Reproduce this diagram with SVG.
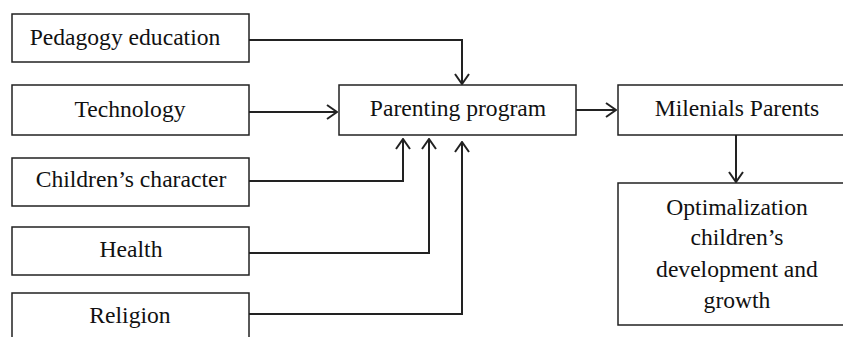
<svg xmlns="http://www.w3.org/2000/svg" width="843" height="337" viewBox="0 0 843 337">
<style>
.box{fill:#fff;stroke:#222;stroke-width:1.5}
.t{font-family:"Liberation Serif","Times New Roman",serif;font-size:23.6px;fill:#111;text-anchor:middle}
.c{fill:none;stroke:#222;stroke-width:2}
</style>
<defs>
<marker id="a" viewBox="0 0 12 16" refX="11" refY="8" markerWidth="12" markerHeight="16" markerUnits="userSpaceOnUse" orient="auto">
<path d="M1,1 L11,8 L1,15" fill="none" stroke="#222" stroke-width="2"/>
</marker>
</defs>
<rect width="843" height="337" fill="#fff"/>
<g id="connectors">
<path class="c" d="M249,40 H462 V84" marker-end="url(#a)"/>
<path class="c" d="M249,112 H337" marker-end="url(#a)"/>
<path class="c" d="M249,181 H403 V139" marker-end="url(#a)"/>
<path class="c" d="M249,253 H429 V139" marker-end="url(#a)"/>
<path class="c" d="M249,314 H462 V142" marker-end="url(#a)"/>
<path class="c" d="M576,110 H616" marker-end="url(#a)"/>
<path class="c" d="M736,135 V182" marker-end="url(#a)"/>
</g>
<g id="pedagogy"><rect class="box" x="12" y="14" width="237" height="48"/><text class="t" x="125" y="45">Pedagogy education</text></g>
<g id="technology"><rect class="box" x="12" y="85" width="237" height="50"/><text class="t" x="130" y="117">Technology</text></g>
<g id="character"><rect class="box" x="12" y="158" width="237" height="48"/><text class="t" x="131" y="187">Children’s character</text></g>
<g id="health"><rect class="box" x="12" y="227" width="237" height="48"/><text class="t" x="131" y="257">Health</text></g>
<g id="religion"><rect class="box" x="12" y="293" width="237" height="60"/><text class="t" x="130" y="323">Religion</text></g>
<g id="parenting"><rect class="box" x="339" y="85" width="237" height="50"/><text class="t" x="458" y="116">Parenting program</text></g>
<g id="milenials"><rect class="box" x="618" y="85" width="240" height="50"/><text class="t" x="737" y="116">Milenials Parents</text></g>
<g id="optimal"><rect class="box" x="618" y="183" width="240" height="142"/>
<text class="t" x="737" y="215">Optimalization</text>
<text class="t" x="737" y="245">children’s</text>
<text class="t" x="737" y="277">development and</text>
<text class="t" x="737" y="308">growth</text></g>
</svg>
